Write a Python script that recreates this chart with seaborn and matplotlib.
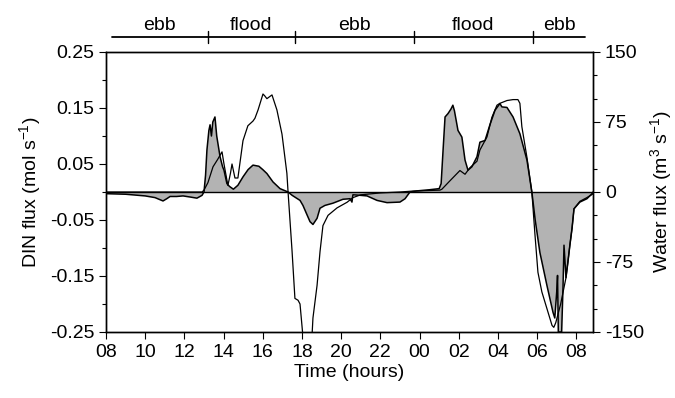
import matplotlib
matplotlib.use("Agg")
import matplotlib.pyplot as plt
import seaborn as sns
from matplotlib.ticker import FixedLocator, MultipleLocator

# DIN flux (mol s-1), shaded trace on the left axis
din_time = [8.0, 9.0, 10.0, 10.5, 10.91, 11.1, 11.27, 11.6, 11.93, 12.3, 12.64, 12.9,
            13.0, 13.08, 13.15, 13.25, 13.31, 13.38, 13.45, 13.56, 13.65, 13.82, 13.95,
            14.02, 14.17, 14.3, 14.5, 14.73, 14.99, 15.25, 15.5, 15.8, 16.0, 16.21, 16.52,
            16.88, 17.29, 17.5, 17.9, 18.05, 18.26, 18.41, 18.56, 18.77, 18.92, 19.17,
            19.58, 20.09, 20.45, 20.55, 20.6, 21.0, 21.32, 21.83, 22.34, 23.0, 23.26,
            23.51, 23.87, 24.5, 25.0, 25.1, 25.2, 25.3, 25.45, 25.6, 25.7, 25.78, 25.96,
            26.16, 26.32, 26.47, 26.67, 26.93, 27.08, 27.34, 27.59, 27.85, 28.1, 28.2,
            28.46, 28.77, 29.12, 29.48, 29.73, 29.9, 30.14, 30.5, 30.81, 30.9, 31.0,
            31.04, 31.08, 31.25, 31.32, 31.37, 31.47, 31.57, 31.67, 31.78, 31.88, 32.18,
            32.54, 32.8, 32.85]
din_flux = [-0.003, -0.004, -0.007, -0.010, -0.016, -0.012, -0.008, -0.008, -0.007,
            -0.009, -0.011, -0.006, 0.000, 0.030, 0.075, 0.110, 0.120, 0.100, 0.125,
            0.134, 0.100, 0.063, 0.045, 0.039, 0.015, 0.010, 0.005, 0.012, 0.027, 0.040,
            0.048, 0.046, 0.040, 0.033, 0.018, 0.006, 0.000, -0.006, -0.015, -0.024,
            -0.041, -0.053, -0.058, -0.047, -0.029, -0.024, -0.020, -0.013, -0.012,
            -0.018, -0.005, -0.006, -0.007, -0.015, -0.019, -0.018, -0.012, 0.000,
            0.002, 0.004, 0.006, 0.015, 0.075, 0.134, 0.140, 0.148, 0.155, 0.145, 0.110,
            0.098, 0.057, 0.039, 0.045, 0.063, 0.089, 0.092, 0.120, 0.146, 0.158, 0.152,
            0.151, 0.134, 0.104, 0.057, 0.000, -0.050, -0.108, -0.167, -0.215, -0.225,
            -0.178, -0.149, -0.250, -0.250, -0.170, -0.095, -0.153, -0.125, -0.095,
            -0.065, -0.030, -0.018, -0.012, -0.003, 0.000]

# Water flux (m3 s-1), thin line on the right axis
water_time = [8.0, 12.9, 13.0, 13.2, 13.46, 13.7, 13.92, 14.02, 14.22, 14.35, 14.43,
              14.58, 14.73, 14.99, 15.24, 15.5, 15.6, 15.76, 16.01, 16.1, 16.21, 16.47,
              16.72, 16.98, 17.23, 17.29, 17.49, 17.64, 17.8, 17.9, 18.05, 18.51, 18.56,
              18.77, 18.92, 19.07, 19.33, 19.79, 20.3, 20.6, 21.0, 22.0, 23.0, 23.66,
              25.04, 25.14, 25.55, 26.06, 26.32, 26.57, 26.93, 27.08, 27.44, 27.69,
              27.95, 28.1, 28.46, 28.77, 29.02, 29.12, 29.22, 29.48, 29.73, 29.89, 30.04,
              30.24, 30.5, 30.76, 30.85, 30.95, 31.2, 31.47, 31.57, 31.67, 31.78, 31.88,
              32.18, 32.54, 32.85]
water_flux = [0, 0, 2, 10, 27, 35, 43, 30, 7, 20, 30, 15, 15, 55, 71, 76, 79, 88, 105,
              103, 100, 104, 88, 62, 20, 0, -62, -114, -116, -120, -155, -155, -135, -100,
              -64, -36, -25, -17, -11, -6, -3, -1, 0, 1, 2, 3, 12, 23, 19, 26, 33, 45, 59,
              80, 93, 95, 98, 99, 99, 95, 70, 37, 0, -46, -86, -107, -125, -143, -145,
              -140, -120, -92, -75, -57, -39, -18, -10, -6, -2]

# tidal phases along the top
tide_edges = [8.3, 13.2, 17.64, 23.71, 29.79, 32.45]
tide_labels = ["ebb", "flood", "ebb", "flood", "ebb"]

x_ticks = [8, 10, 12, 14, 16, 18, 20, 22, 24, 26, 28, 30, 32]
x_tick_labels = ["08", "10", "12", "14", "16", "18", "20", "22", "00", "02", "04", "06", "08"]
din_ticks = [-0.25, -0.15, -0.05, 0.05, 0.15, 0.25]
water_ticks = [-150, -75, 0, 75, 150]

sns.set_style("ticks")
plt.rcParams["font.family"] = ["Liberation Sans", "DejaVu Sans"]
plt.rcParams["mathtext.default"] = "regular"
plt.rcParams["axes.unicode_minus"] = False
for key in ("text.color", "axes.labelcolor", "xtick.color", "ytick.color"):
    plt.rcParams[key] = "black"

FS = 14

fig = plt.figure(figsize=(6.75, 3.98), dpi=100)
ax = fig.add_axes([106 / 675, 66 / 398, 487 / 675, 280 / 398])

ax.fill_between(din_time, din_flux, 0, facecolor="#b3b3b3", edgecolor="none", zorder=1)
sns.lineplot(x=din_time, y=din_flux, ax=ax, color="black", lw=1.1, estimator=None, zorder=2)
ax.axhline(0, color="black", lw=1.0, zorder=3)

# tide bar above the plot
top_y = 0.277
ax.plot([tide_edges[0], tide_edges[-1]], [top_y, top_y], color="black", lw=1.3, clip_on=False)
for t in tide_edges[1:-1]:
    ax.plot([t, t], [top_y - 0.011, top_y + 0.011], color="black", lw=1.0, clip_on=False)
for i, lab in enumerate(tide_labels):
    mid = (tide_edges[i] + tide_edges[i + 1]) / 2
    ax.text(mid, 0.289, lab, ha="center", va="baseline", fontsize=FS, clip_on=False)

ax.set_xlim(8, 32.85)
ax.set_ylim(-0.25, 0.25)
ax.set_xticks(x_ticks)
ax.set_xticklabels(x_tick_labels)
ax.yaxis.set_major_locator(FixedLocator(din_ticks))
ax.yaxis.set_minor_locator(FixedLocator([-0.2, -0.1, 0.0, 0.1, 0.2]))
ax.set_yticklabels([f"{v:.2f}" for v in din_ticks])
ax.set_xlabel("Time (hours)", fontsize=FS, labelpad=2)
ax.set_ylabel("DIN flux (mol s$^{-1}$)", fontsize=FS, labelpad=5)
ax.tick_params(which="major", direction="out", length=5, width=0.8, labelsize=FS, top=False)
ax.tick_params(which="minor", direction="out", length=3, width=0.8)

ax2 = ax.twinx()
sns.lineplot(x=water_time, y=water_flux, ax=ax2, color="black", lw=0.9, estimator=None, zorder=4)
ax2.set_ylim(-150, 150)
ax2.yaxis.set_major_locator(FixedLocator(water_ticks))
ax2.yaxis.set_minor_locator(MultipleLocator(25))
ax2.set_ylabel("Water flux (m$^3$ s$^{-1}$)", fontsize=FS, labelpad=3)
ax2.tick_params(which="major", direction="out", length=5, width=0.8, labelsize=FS)
ax2.tick_params(which="minor", direction="out", length=3, width=0.8)

for a in (ax, ax2):
    for sp in a.spines.values():
        sp.set_visible(True)
        sp.set_linewidth(1.0)
        sp.set_color("black")

fig.savefig("out.png", dpi=100)
